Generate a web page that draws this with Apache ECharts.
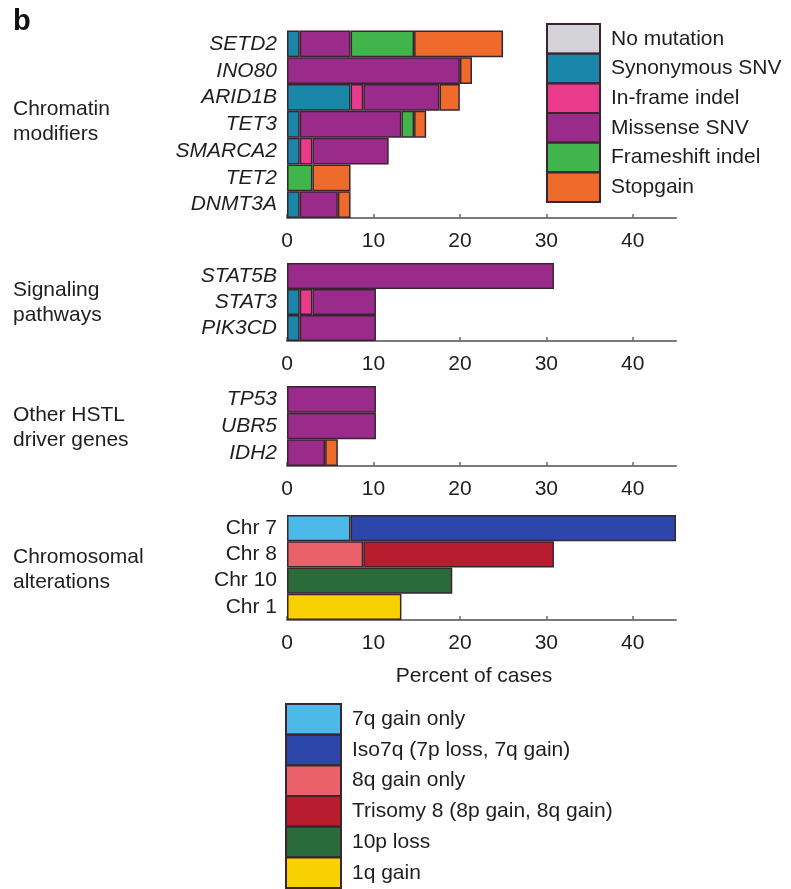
<!DOCTYPE html>
<html>
<head>
<meta charset="utf-8">
<script src="https://cdn.jsdelivr.net/npm/echarts@6/dist/echarts.min.js"></script>
<style>
  html, body { margin: 0; padding: 0; background: #fff; }
  #chart { width: 791px; height: 889px; }
</style>
</head>
<body>
<div id="chart"></div>
<script>
// Percent of cases carrying each alteration, per gene / chromosome.
const chromatinGenes = ['SETD2', 'INO80', 'ARID1B', 'TET3', 'SMARCA2', 'TET2', 'DNMT3A'];
const signalingGenes = ['STAT5B', 'STAT3', 'PIK3CD'];
const driverGenes = ['TP53', 'UBR5', 'IDH2'];
const chromosomes = ['Chr 7', 'Chr 8', 'Chr 10', 'Chr 1'];

const mutationTypes = ['No mutation', 'Synonymous SNV', 'In-frame indel', 'Missense SNV', 'Frameshift indel', 'Stopgain'];

// chromatin modifiers, stacked in the order of mutationTypes
const chromatinNoMut = [null, null, null, null, null, null, null];
const chromatinSyn = [1.47, null, 7.35, 1.47, 1.47, null, 1.47];
const chromatinInframe = [null, null, 1.47, null, 1.47, null, null];
const chromatinMissense = [5.88, 20.0, 8.82, 11.76, 8.82, null, 4.41];
const chromatinFrameshift = [7.35, null, null, 1.47, null, 2.94, null];
const chromatinStopgain = [10.29, 1.4, 2.35, 1.4, null, 4.41, 1.47];

// signaling pathways
const signalingSyn = [null, 1.47, 1.47];
const signalingInframe = [null, 1.47, null];
const signalingMissense = [30.88, 7.35, 8.82];

// other HSTL driver genes
const driverMissense = [10.29, 10.29, 4.41];
const driverStopgain = [null, null, 1.47];

// chromosomal alterations
const chrTypes = ['7q gain only', 'Iso7q (7p loss, 7q gain)', '8q gain only', 'Trisomy 8 (8p gain, 8q gain)', '10p loss', '1q gain'];
const chr7qGainOnly = [7.35, null, null, null];
const chrIso7q = [37.65, null, null, null];
const chr8qGainOnly = [null, 8.82, null, null];
const chrTrisomy8 = [null, 22.06, null, null];
const chr10pLoss = [null, null, 19.12, null];
const chr1qGain = [null, null, null, 13.24];

const xTicks = [0, 10, 20, 30, 40];

const mutationColors = {
  'No mutation': '#d3d3d8',
  'Synonymous SNV': '#1a87aa',
  'In-frame indel': '#ea3a8c',
  'Missense SNV': '#9b2b8b',
  'Frameshift indel': '#3fb54c',
  'Stopgain': '#ee6b2c'
};
const chrColors = {
  '7q gain only': '#4cb9e9',
  'Iso7q (7p loss, 7q gain)': '#2d46aa',
  '8q gain only': '#e9626a',
  'Trisomy 8 (8p gain, 8q gain)': '#b81d2f',
  '10p loss': '#2a6b3a',
  '1q gain': '#f9d100'
};

const FONT = '"Liberation Sans", Arial, Helvetica, sans-serif';
const TXT = '#1e1e1e';
const BORDER = '#3a2430';
const FS = 21;

const gridLeft = 287;
const gridRight = 791 - 676;
const grids = [
  { top: 30.5, height: 187.5 },
  { top: 263, height: 78 },
  { top: 386, height: 80 },
  { top: 515, height: 105 }
];
const categorySets = [chromatinGenes, signalingGenes, driverGenes, chromosomes];

const option = {
  backgroundColor: '#ffffff',
  animation: false,
  textStyle: { fontFamily: FONT },
  grid: grids.map(g => ({ left: gridLeft, right: gridRight, top: g.top, height: g.height, containLabel: false })),
  xAxis: grids.map((g, i) => ({
    type: 'value',
    gridIndex: i,
    min: 0,
    max: 45,
    interval: 10,
    splitLine: { show: false },
    axisLine: { show: true, lineStyle: { color: '#7a7a7a', width: 2 } },
    axisTick: { show: true, inside: true, length: 4, lineStyle: { color: '#6a6a6a', width: 1.5 }, customValues: xTicks },
    axisLabel: { show: true, customValues: xTicks, fontSize: FS, color: TXT, margin: 13, fontFamily: FONT }
  })),
  yAxis: categorySets.map((cats, i) => ({
    type: 'category',
    gridIndex: i,
    data: cats,
    inverse: true,
    axisLine: { show: false },
    axisTick: { show: false },
    axisLabel: {
      interval: 0,
      fontSize: FS,
      color: TXT,
      fontStyle: i < 3 ? 'italic' : 'normal',
      margin: 10,
      fontFamily: FONT
    }
  })),
  legend: [
    {
      orient: 'vertical',
      left: 546,
      top: 23,
      height: 300,
      padding: 0,
      itemWidth: 53,
      itemHeight: 29.5,
      itemGap: -1.8,
      icon: 'rect',
      selectedMode: false,
      data: mutationTypes,
      textStyle: { fontSize: FS, lineHeight: 22, color: TXT, fontFamily: FONT, padding: [0, 0, 0, 6] }
    },
    {
      orient: 'vertical',
      left: 285,
      top: 703,
      height: 300,
      padding: 0,
      itemWidth: 55,
      itemHeight: 30.5,
      itemGap: -1.8,
      icon: 'rect',
      selectedMode: false,
      data: chrTypes,
      textStyle: { fontSize: FS, lineHeight: 22, color: TXT, fontFamily: FONT, padding: [0, 0, 0, 6] }
    }
  ],
  graphic: [
    { type: 'text', left: 13, top: 7, style: { text: 'b', font: 'bold 29px ' + FONT, fill: '#111' } },
    { type: 'text', left: 13, top: 97, style: { text: 'Chromatin\nmodifiers', font: FS + 'px ' + FONT, fill: TXT, lineHeight: 25 } },
    { type: 'text', left: 13, top: 278, style: { text: 'Signaling\npathways', font: FS + 'px ' + FONT, fill: TXT, lineHeight: 25 } },
    { type: 'text', left: 13, top: 403, style: { text: 'Other HSTL\ndriver genes', font: FS + 'px ' + FONT, fill: TXT, lineHeight: 25 } },
    { type: 'text', left: 13, top: 545, style: { text: 'Chromosomal\nalterations', font: FS + 'px ' + FONT, fill: TXT, lineHeight: 25 } },
    { type: 'text', x: 474, y: 676, style: { text: 'Percent of cases', font: FS + 'px ' + FONT, fill: TXT, align: 'center', verticalAlign: 'middle' } }
  ],
  series: []
};

function addBar(name, data, gridIndex, color) {
  option.series.push({
    type: 'bar',
    name: name,
    xAxisIndex: gridIndex,
    yAxisIndex: gridIndex,
    stack: 'panel' + gridIndex,
    barCategoryGap: '0%',
    data: data,
    itemStyle: { color: color, borderColor: BORDER, borderWidth: 1.5 },
    emphasis: { disabled: true }
  });
}

const chromatinData = [chromatinNoMut, chromatinSyn, chromatinInframe, chromatinMissense, chromatinFrameshift, chromatinStopgain];
mutationTypes.forEach((t, k) => addBar(t, chromatinData[k], 0, mutationColors[t]));

addBar('Synonymous SNV', signalingSyn, 1, mutationColors['Synonymous SNV']);
addBar('In-frame indel', signalingInframe, 1, mutationColors['In-frame indel']);
addBar('Missense SNV', signalingMissense, 1, mutationColors['Missense SNV']);

addBar('Missense SNV', driverMissense, 2, mutationColors['Missense SNV']);
addBar('Stopgain', driverStopgain, 2, mutationColors['Stopgain']);

const chrData = [chr7qGainOnly, chrIso7q, chr8qGainOnly, chrTrisomy8, chr10pLoss, chr1qGain];
chrTypes.forEach((t, k) => addBar(t, chrData[k], 3, chrColors[t]));

const chart = echarts.init(document.getElementById('chart'), null, { renderer: 'canvas' });
chart.setOption(option);
</script>
</body>
</html>
